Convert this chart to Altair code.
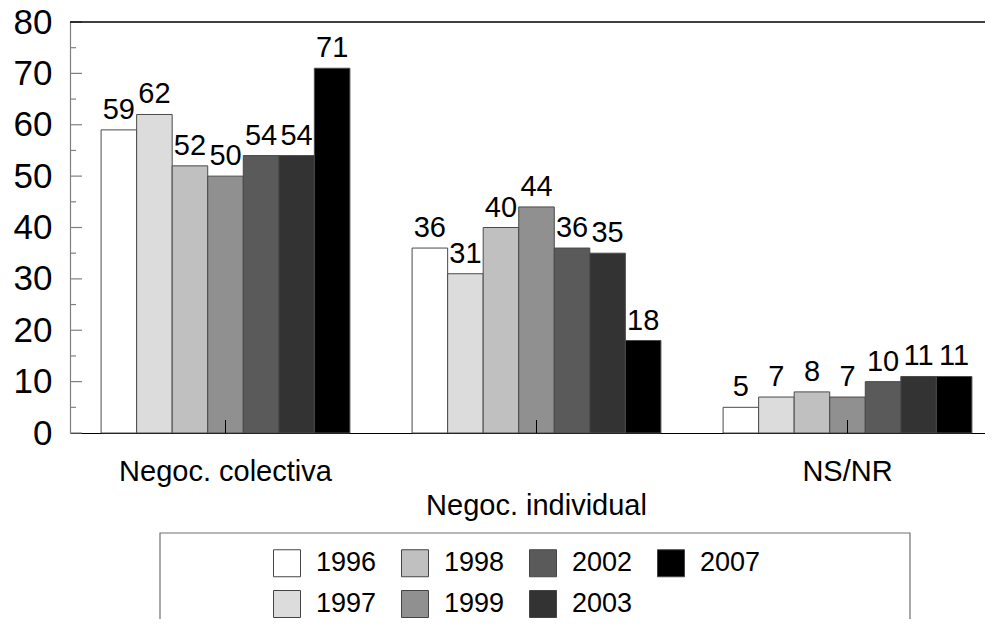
import altair as alt
import pandas as pd

categories = ["Negoc. colectiva", "Negoc. individual", "NS/NR"]
years = ["1996", "1997", "1998", "1999", "2002", "2003", "2007"]
values_by_year = {
    "1996": [59, 36, 5],
    "1997": [62, 31, 7],
    "1998": [52, 40, 8],
    "1999": [50, 44, 7],
    "2002": [54, 36, 10],
    "2003": [54, 35, 11],
    "2007": [71, 18, 11],
}
year_colors = ["#ffffff", "#dcdcdc", "#c0c0c0", "#909090", "#5a5a5a", "#333333", "#000000"]
y_major_ticks = [0, 10, 20, 30, 40, 50, 60, 70, 80]
y_minor_ticks = [5, 15, 25, 35, 45, 55, 65, 75]

rows = []
for y in years:
    for c, v in zip(categories, values_by_year[y]):
        rows.append({"cat": c, "year": y, "value": v})
df = pd.DataFrame(rows)
df_cat = pd.DataFrame({"cat": categories})
df_major = pd.DataFrame({"value": y_major_ticks})
df_minor = pd.DataFrame({"value": y_minor_ticks})
df_one = pd.DataFrame({"a": [0]})

W = 915
H = 411
FONT = "Liberation Sans"

x_axis = alt.Axis(
    title=None,
    labelAngle=0,
    ticks=False,
    tickSize=0,
    domainColor="#000000",
    domainWidth=1.2,
    labelFont=FONT,
    labelFontSize=29,
    labelColor="#000000",
    labelPadding=24,
    labelLineHeight=34,
    labelLimit=500,
    labelExpr="datum.value == 'Negoc. individual' ? ['', datum.label] : datum.label",
)
y_axis = alt.Axis(
    title=None,
    values=y_major_ticks,
    ticks=False,
    tickSize=0,
    grid=False,
    domainColor="#808080",
    domainWidth=1.2,
    labelFont=FONT,
    labelFontSize=35,
    labelColor="#000000",
    labelPadding=18,
    labelFlush=False,
    labelOverlap=False,
)
x_scale = alt.Scale(range=[0, 933], paddingInner=0.2, paddingOuter=0.1)
y_scale = alt.Scale(domain=[0, 80], nice=False)


def xenc():
    return alt.X("cat:N", sort=categories, scale=x_scale, axis=x_axis)


def yenc():
    return alt.Y("value:Q", scale=y_scale, axis=y_axis)


xoff = alt.XOffset("year:N", sort=years, scale=alt.Scale(paddingInner=0, paddingOuter=0))

bars = alt.Chart(df).mark_bar(stroke="#4a4a4a", strokeWidth=1).encode(
    x=xenc(),
    xOffset=xoff,
    y=yenc(),
    color=alt.Color(
        "year:N",
        scale=alt.Scale(domain=years, range=year_colors),
        legend=alt.Legend(
            title=None,
            orient="none",
            legendX=203,
            legendY=527,
            columns=4,
            symbolType="square",
            symbolSize=729,
            symbolStrokeColor="#444444",
            symbolStrokeWidth=1,
            symbolOpacity=1,
            labelFont=FONT,
            labelFontSize=27,
            labelColor="#000000",
            labelOffset=15,
            columnPadding=22,
            rowPadding=9,
            padding=0,
        ),
    ),
)

labels = alt.Chart(df).mark_text(
    dy=-11, baseline="alphabetic", align="center", fontSize=29, color="#000000", font=FONT
).encode(
    x=xenc(),
    xOffset=xoff,
    y=yenc(),
    text="value:Q",
)

xticks = alt.Chart(df_cat).mark_rule(color="#000000", strokeWidth=1).encode(
    x=xenc(),
    y=alt.value(H),
    y2=alt.value(H - 13),
)

ymajor = alt.Chart(df_major).mark_rule(color="#808080", strokeWidth=1.2).encode(
    y=yenc(),
    x=alt.value(0),
    x2=alt.value(12),
)
yminor = alt.Chart(df_minor).mark_rule(color="#808080", strokeWidth=1.2).encode(
    y=yenc(),
    x=alt.value(0),
    x2=alt.value(6),
)

topline = alt.Chart(df_one).mark_rule(color="#000000", strokeWidth=1.5).encode(
    x=alt.value(0),
    x2=alt.value(W + 30),
    y=alt.value(0),
)

legend_box = alt.Chart(df_one).mark_rect(
    filled=False, stroke="#707070", strokeWidth=1.2
).encode(
    x=alt.value(90),
    x2=alt.value(840),
    y=alt.value(511),
    y2=alt.value(700),
)

chart = (
    alt.layer(legend_box, bars, labels, xticks, ymajor, yminor, topline)
    .properties(
        width=W,
        height=H,
        autosize=alt.AutoSizeParams(type="none"),
        padding={"left": 62, "top": 14, "right": 0, "bottom": 186},
    )
    .configure(font=FONT)
    .configure_view(stroke=None)
)

chart.save("out.html", embed_options={"renderer": "svg", "actions": False})
